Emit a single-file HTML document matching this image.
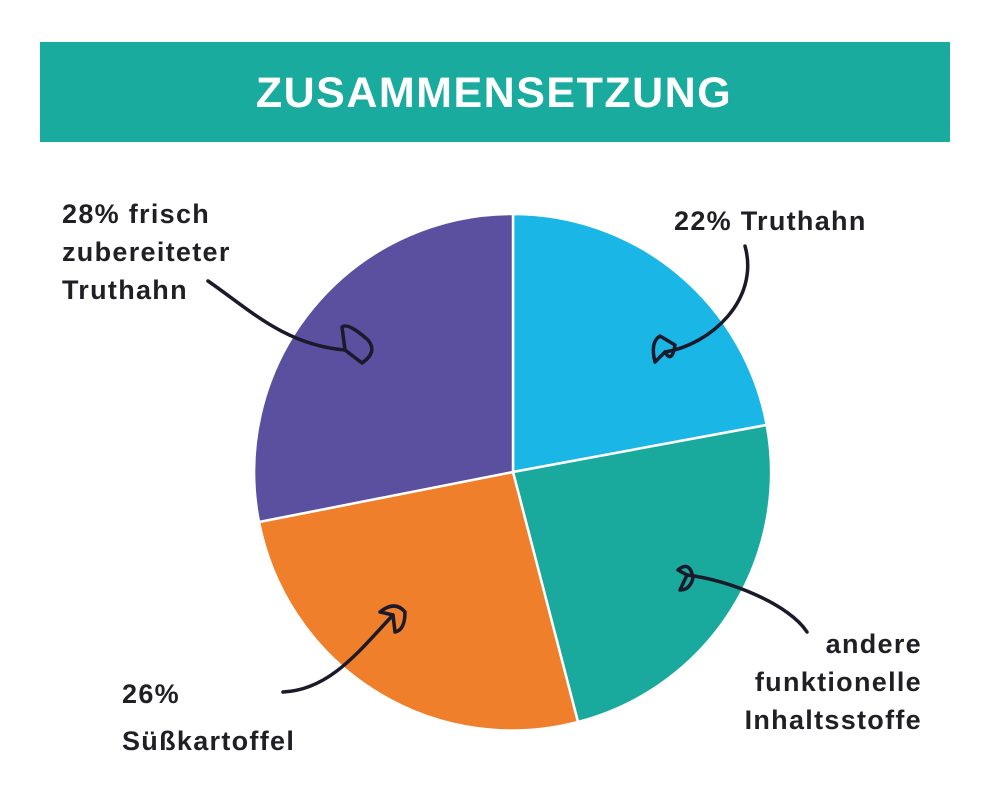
<!DOCTYPE html>
<html><head><meta charset="utf-8"><style>
body{margin:0;background:#fff;}
svg{display:block}
text{font-family:"Liberation Sans",sans-serif;}
</style></head><body>
<svg width="1000" height="805" viewBox="0 0 1000 805">
<rect x="40" y="42" width="910" height="100" fill="#1aab9f"/>
<text x="494" y="107" text-anchor="middle" fill="#fff" font-size="43" font-weight="bold" letter-spacing="1.5">ZUSAMMENSETZUNG</text>
<g stroke="#fff" stroke-width="2.5">
<path d="M513,472 L513,214 A258,258 0 0 1 766.7,425 Z" fill="#1ab7e6"/>
<path d="M513,472 L766.7,425 A258,258 0 0 1 578,722 Z" fill="#19a99d"/>
<path d="M513,472 L578,722 A258,258 0 0 1 259,522 Z" fill="#ef7f2b"/>
<path d="M513,472 L259,522 A258,258 0 0 1 513,214 Z" fill="#5b4f9f"/>
</g>
<g fill="none" stroke="#1a1a2a" stroke-width="3.5" stroke-linecap="round" stroke-linejoin="round">
<path d="M208,281 C250,310 285,345 345,350"/>
<path d="M345,350 L342,327 Q348,322 368,340 Q378,352 362,363 Z"/>
<path d="M745,246 C760,300 710,345 665,352"/>
<path d="M665,352 L655,362 Q650,342 660,336 L675,345 Q672,364 665,352 Z"/>
<path d="M807,632 C790,605 730,580 687,575"/>
<path d="M687,575 L678,570 Q690,560 693,578 Q690,590 680,590 Z"/>
<path d="M283,692 C330,690 360,650 393,615"/>
<path d="M393,615 L380,612 Q395,600 405,612 Q405,630 395,632 Z"/>
</g>
<g fill="#1f1f24" font-size="27" font-weight="bold" letter-spacing="1.3">
<text x="62" y="223">28% frisch</text>
<text x="62" y="261">zubereiteter</text>
<text x="62" y="299">Truthahn</text>
<text x="674" y="230">22% Truthahn</text>
<text x="922" y="653" text-anchor="end">andere</text>
<text x="922" y="691" text-anchor="end">funktionelle</text>
<text x="922" y="729" text-anchor="end">Inhaltsstoffe</text>
<text x="122" y="703">26%</text>
<text x="122" y="750">Süßkartoffel</text>
</g>
</svg>
</body></html>
